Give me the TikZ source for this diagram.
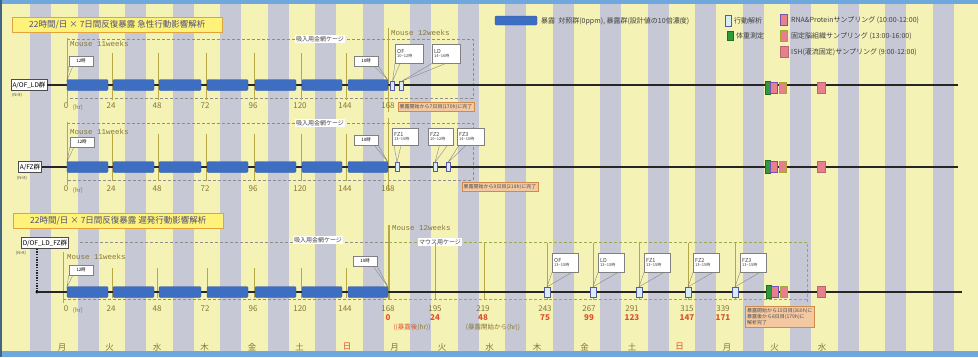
\documentclass[tikz,border=0pt]{standalone}
\usepackage{fontspec}
\setmainfont{Noto Sans CJK JP}
\newfontfamily\monof{Liberation Mono}
\newcommand\myfs[1]{\fontsize{#1}{#1}\selectfont}
\definecolor{bgyellow}{HTML}{F5F2B6}
\definecolor{stripe}{HTML}{C6C9D5}
\definecolor{expblue}{HTML}{3E6EC2}
\definecolor{olivetxt}{HTML}{857536}
\definecolor{titlefill}{HTML}{FFF27A}
\definecolor{titledraw}{HTML}{E0A43A}
\definecolor{titletxt}{HTML}{4B4F7A}
\definecolor{notefill}{HTML}{F4C9A2}
\definecolor{notedraw}{HTML}{D08A4A}
\definecolor{pinkm}{HTML}{E67F8E}
\definecolor{purplem}{HTML}{7650B5}
\definecolor{olivem}{HTML}{A6A82A}
\definecolor{greenm}{HTML}{2E9B3A}
\definecolor{behav}{HTML}{D6ECF7}
\definecolor{frameblue}{HTML}{6FA8DC}
\definecolor{dashgray}{HTML}{8E8E8E}
\definecolor{dashgreen}{HTML}{9AAA50}
\definecolor{redtxt}{HTML}{E0502A}
\definecolor{vline}{HTML}{B8A844}
\tikzset{
 expbar/.style={fill=expblue, draw=expblue!80!black, line width=0.3pt, rounded corners=1.2pt},
 tline/.style={line width=1.6pt, black!85},
 hrtick/.style={vline, line width=0.5pt},
 hrlab/.style={text=olivetxt, font=\myfs{8}, inner sep=0pt},
 redlab/.style={text=redtxt, font=\bfseries\myfs{8}, inner sep=0pt},
 daylab/.style={text=olivetxt, font=\myfs{8.5}, inner sep=0pt},
 grplab/.style={draw=black!70, fill=white, font=\myfs{6.5}, inner sep=1.5pt, minimum height=11pt},
 nlab/.style={font=\myfs{4}, text=black!70, inner sep=0pt},
 titlebox/.style={draw=titledraw, fill=titlefill, line width=0.6pt, text=titletxt, font=\myfs{8.5}, inner xsep=3pt, minimum height=15pt, minimum width=210pt, anchor=west},
 cagebox/.style={fill=white, font=\myfs{6}, text=black!75, inner sep=1.5pt},
 mouselab/.style={text=olivetxt, font=\monof\myfs{7.5}, inner sep=0pt, anchor=west},
 timebox/.style={draw=gray, fill=white, font=\myfs{4.5}, inner sep=1pt, minimum width=24pt, minimum height=10pt},
 callbox/.style={draw=gray, fill=white, font=\myfs{5.5}, text=black!75, align=left, text width=24pt, inner sep=2pt, minimum height=19pt, anchor=north west},
 wedgeln/.style={draw=gray, line width=0.35pt},
 behm/.style={draw=gray!70!blue, fill=behav, line width=0.4pt, inner sep=0pt, minimum width=4pt, minimum height=9pt},
 behm3/.style={behm, minimum width=6pt, minimum height=10pt},
 note/.style={draw=notedraw, fill=notefill, font=\myfs{5}, text=black!70, inner sep=2pt, align=left},
 cage/.style={dashgray, dash pattern=on 3pt off 2pt, line width=0.9pt},
 cageg/.style={dashgreen, dash pattern=on 3pt off 2pt, line width=0.9pt},
 legtxt/.style={font=\myfs{7}, text=black!75, inner sep=0pt, anchor=west},
 wm/.style={fill=greenm, draw=greenm!70!black, line width=0.3pt, inner sep=0pt, minimum width=5pt, minimum height=13pt},
 rnam/.style={fill=pinkm, draw=purplem, line width=1pt, inner sep=0pt, minimum width=7pt, minimum height=11pt},
 fixm/.style={fill=pinkm, draw=olivem, line width=1pt, inner sep=0pt, minimum width=7pt, minimum height=11pt},
 ishm/.style={fill=pinkm, draw=pinkm!80!black, line width=0.3pt, inner sep=0pt, minimum width=8pt, minimum height=11pt},
}
\begin{document}
\begin{tikzpicture}[x=1pt,y=-1pt]
\useasboundingbox (0,0) rectangle (978,357);
\clip (0,0) rectangle (978,357);
% background
\fill[bgyellow] (0,0) rectangle (978,357);
\foreach \k in {0,...,19} \fill[stripe] ({30+47.5*\k},0) rectangle ({51+47.5*\k},357);
\fill[frameblue] (0,0) rectangle (978,3.5);
\fill[frameblue] (0,351) rectangle (978,357);
\fill[frameblue!60!black] (0,0) rectangle (2,357);

% ---------- legend ----------
\fill[expbar] (495,16) rectangle (537,25);
\node[legtxt] (lg1) at (541,21) {暴露\ \ 対照群(0ppm), 暴露群(設計値の10倍濃度)};
\node[behm, minimum width=6pt, minimum height=11pt] (lgb) at (728,21) {};
\node[legtxt] (lgbt) at (734,21) {行動解析};
\node[wm, minimum width=6pt, minimum height=9pt] (lgw) at (730,36) {};
\node[legtxt] (lgwt) at (736,36) {体重測定};
\node[rnam] (lgr) at (784,20) {};
\node[legtxt] (lgrt) at (791,20) {RNA\&Proteinサンプリング (10:00-12:00)};
\node[fixm] (lgf) at (784,36) {};
\node[legtxt] (lgft) at (791,36) {固定脳組織サンプリング (13:00-16:00)};
\node[ishm] (lgi) at (784,52) {};
\node[legtxt] (lgit) at (791,52) {ISH(灌流固定)サンプリング (9:00-12:00)};

% ================= Panel 1 =================
\node[titlebox] (ttl1) at (12,25) {22時間/日 × 7日間反復暴露 急性行動影響解析};
\draw[cage] (67,39) -- (473,39) -- (473,98) -- (67,98);
\node[cagebox] (cg1) at (320,39) {吸入用金網ケージ};
\draw[hrtick, line width=0.7pt] (67,38) -- (67,103);
\draw[vline, line width=0.8pt] (388.5,28) -- (388.5,112);
\node[mouselab] (m11a) at (70,44) {Mouse 11weeks};
\node[mouselab] (m12a) at (391,33) {Mouse 12weeks};
\foreach \x in {112,158,206,254,301,346} \draw[hrtick] (\x,53) -- (\x,100);
\node[grplab] (g1) at (29,85) {A/OF\_LD群};
\node[nlab] (n1) at (17,95) {(N=8)};
\coordinate (e1) at (958,85);
\draw[tline] (g1.east) -- (e1);
\foreach \a/\b in {67/108,113/154,159/201,207/248,255/296,302/342,348/388} \fill[expbar] (\a,79.5) rectangle (\b,90.5);
\node[hrlab] (h10) at (66,106) {0};
\node[hrlab, font=\myfs{6}] (h10u) at (78,108) {(hr)};
\foreach \x/\t [count=\i] in {111/24,157/48,205/72,253/96,300/120,345/144,388/168} \node[hrlab] (h1\i) at (\x,106) {\t};
\node[timebox] (t12a) at (81,61) {12時};
\coordinate (s1) at (67,80);
\draw[wedgeln] (t12a.south west) -- (s1) -- ([xshift=4pt]t12a.south west);
\node[timebox] (t10a) at (366,61) {10時};
\coordinate (f1) at (388,80);
\draw[wedgeln] (t10a.south east) -- (f1) -- ([xshift=-4pt]t10a.south east);
\node[behm] (mOFa) at (392.5,86) {};
\node[behm] (mLDa) at (401.5,86) {};
\node[callbox] (cOFa) at (395,44) {OF\\[-2pt]{\myfs{4}10\textasciitilde 12時}};
\node[callbox] (cLDa) at (432,44) {LD\\[-2pt]{\myfs{4}14\textasciitilde 16時}};
\draw[wedgeln] (cOFa.south west) -- (mOFa.north) -- ([xshift=5pt]cOFa.south west);
\draw[wedgeln] (cLDa.south west) -- (mLDa.north) -- ([xshift=14pt]cLDa.south west);
\node[note] (nt1) at (436,107) {暴露開始から7日目(170h)に完了};
\node[wm] (w1) at (768,88) {};
\node[rnam] (r1) at (774,88) {};
\node[fixm] (fx1) at (782.5,88) {};
\node[ishm] (is1) at (821,88) {};

% ================= Panel 2 =================
\draw[cage] (67,123) -- (473,123) -- (473,180) -- (67,180);
\node[cagebox] (cg2) at (320,123) {吸入用金網ケージ};
\draw[hrtick, line width=0.7pt] (67,122) -- (67,185);
\draw[vline, line width=0.6pt] (388.5,118) -- (388.5,190);
\node[mouselab] (m11b) at (70,132) {Mouse 11weeks};
\foreach \x in {112,158,206,254,301,346} \draw[hrtick] (\x,134) -- (\x,181);
\node[grplab] (g2) at (30,167) {A/FZ群};
\node[nlab] (n2) at (22,178) {(N=8)};
\coordinate (e2) at (958,167);
\draw[tline] (g2.east) -- (e2);
\foreach \a/\b in {67/108,113/154,159/201,207/248,255/296,302/342,348/388} \fill[expbar] (\a,161.5) rectangle (\b,172.5);
\node[hrlab] (h20) at (66,189) {0};
\node[hrlab, font=\myfs{6}] (h20u) at (78,191) {(hr)};
\foreach \x/\t [count=\i] in {111/24,157/48,205/72,253/96,300/120,345/144,388/168} \node[hrlab] (h2\i) at (\x,189) {\t};
\node[timebox] (t12b) at (82,142) {12時};
\coordinate (s2) at (67,162);
\draw[wedgeln] (t12b.south west) -- (s2) -- ([xshift=4pt]t12b.south west);
\node[timebox] (t10b) at (366,140) {10時};
\coordinate (f2) at (388,162);
\draw[wedgeln] (t10b.south east) -- (f2) -- ([xshift=-4pt]t10b.south east);
\node[behm] (mF1b) at (397,167) {};
\node[behm] (mF2b) at (435,167) {};
\node[behm] (mF3b) at (448,167) {};
\node[callbox, text width=22pt, minimum height=17pt] (cF1b) at (392,128) {FZ1\\[-2pt]{\myfs{4}13\textasciitilde 15時}};
\node[callbox, text width=21pt, minimum height=17pt] (cF2b) at (428,128) {FZ2\\[-2pt]{\myfs{4}10\textasciitilde 12時}};
\node[callbox, text width=23pt, minimum height=17pt] (cF3b) at (457,128) {FZ3\\[-2pt]{\myfs{4}14\textasciitilde 16時}};
\draw[wedgeln] ([xshift=2pt]cF1b.south west) -- (mF1b.north) -- ([xshift=9pt]cF1b.south west);
\draw[wedgeln] ([xshift=-14pt]cF2b.south east) -- (mF2b.north) -- ([xshift=-6pt]cF2b.south east);
\draw[wedgeln] ([xshift=2pt]cF3b.south west) -- (mF3b.north) -- ([xshift=9pt]cF3b.south west);
\node[note] (nt2) at (500,187) {暴露開始から9日目(218h)に完了};
\node[wm] (w2) at (768,167) {};
\node[rnam] (r2) at (774,167) {};
\node[fixm] (fx2) at (782.5,167) {};
\node[ishm] (is2) at (821,167) {};

% ================= Panel 3 =================
\node[titlebox] (ttl3) at (13,221) {22時間/日 × 7日間反復暴露 遅発行動影響解析};
\draw[cage] (80,242) -- (389,242);
\draw[cageg] (389,242) -- (807,242) -- (807,303);
\draw[cage] (63,299) -- (389,299);
\draw[cageg] (389,299) -- (807,299);
\node[cagebox] (cg3) at (318,240) {吸入用金網ケージ};
\node[cagebox] (cg4) at (440,242) {マウス用ケージ};
\draw[hrtick, line width=0.7pt] (63,252) -- (63,303);
\draw[vline, line width=1.1pt] (389,225) -- (389,300);
\node[mouselab] (m11c) at (67,257) {Mouse 11weeks};
\node[mouselab] (m12c) at (392,228) {Mouse 12weeks};
\foreach \x in {112,157,207,254,301,346} \draw[hrtick] (\x,268) -- (\x,298);
\foreach \x in {435,484,547,593,639,688,735} \draw[hrtick] (\x,243) -- (\x,300);
\node[grplab] (g3) at (45,243) {D/OF\_LD\_FZ群};
\node[nlab] (n3) at (21,253) {(N=8)};
\coordinate (k3) at (37,292);
\coordinate (e3) at (962,292);
\draw[black!85, line width=1.4pt, dash pattern=on 1.4pt off 1.2pt] (g3.south -| k3) -- (k3);
\fill[black] (k3) circle (1.6pt);
\draw[tline] (k3) -- (e3);
\foreach \a/\b in {67/108,113/154,159/201,207/248,255/296,302/342,348/388} \fill[expbar] (\a,286.5) rectangle (\b,297.5);
\node[hrlab] (h30) at (66,309) {0};
\node[hrlab, font=\myfs{6}] (h30u) at (78,311) {(hr)};
\foreach \x/\t [count=\i] in {111/24,157/48,205/72,253/96,300/120,345/144,388/168,435/195,483/219,545/243,589/267,632/291,687/315,723/339} \node[hrlab] (h3\i) at (\x,309) {\t};
\foreach \x/\t [count=\i] in {388/0,435/24,483/48,545/75,589/99,632/123,687/147,723/171} \node[redlab] (r3\i) at (\x,318) {\t};
\node[hrlab, font=\myfs{6.5}] (pp1) at (412,327) {{\color{redtxt}((暴露後}(hr))};
\node[hrlab, font=\myfs{6.5}] (pp2) at (493,327) {(暴露開始から(hr))};
\node[timebox] (t12c) at (81,270) {12時};
\coordinate (s3) at (67,287);
\draw[wedgeln] (t12c.south west) -- (s3) -- ([xshift=4pt]t12c.south west);
\node[timebox] (t10c) at (365,261) {10時};
\coordinate (f3) at (388,287);
\draw[wedgeln] (t10c.south east) -- (f3) -- ([xshift=-4pt]t10c.south east);
\foreach \nm/\x/\lab in {OF/547/OF,LD/593/LD,F1/639/FZ1,F2/688/FZ2,F3/735/FZ3} {
  \node[behm3] (m\nm c) at (\x,292) {};
  \node[callbox, text width=22pt] (c\nm c) at (\x+5,253) {\lab\\[-2pt]{\myfs{4}13\textasciitilde 15時}};
  \draw[wedgeln] (c\nm c.south west) -- (m\nm c.north) -- ([xshift=20pt]c\nm c.south west);
}
\node[note, anchor=north west] (nt3) at (745,306) {暴露開始から15日目(360h)に\\暴露後から8日目(179h)に\\解析完了};
\node[wm] (w3) at (769,292) {};
\node[rnam] (r3) at (775,292) {};
\node[fixm] (fx3) at (783.5,292) {};
\node[ishm] (is3) at (821,292) {};
% days
\foreach \d/\c [count=\i from 0] in {月/olivetxt,火/olivetxt,水/olivetxt,木/olivetxt,金/olivetxt,土/olivetxt,日/redtxt,月/olivetxt,火/olivetxt,水/olivetxt,木/olivetxt,金/olivetxt,土/olivetxt,日/redtxt,月/olivetxt,火/olivetxt,水/olivetxt} {
  \node[daylab, text=\c] (d\i) at ({62+47.5*\i},347) {\d};
}
\end{tikzpicture}
\end{document}
